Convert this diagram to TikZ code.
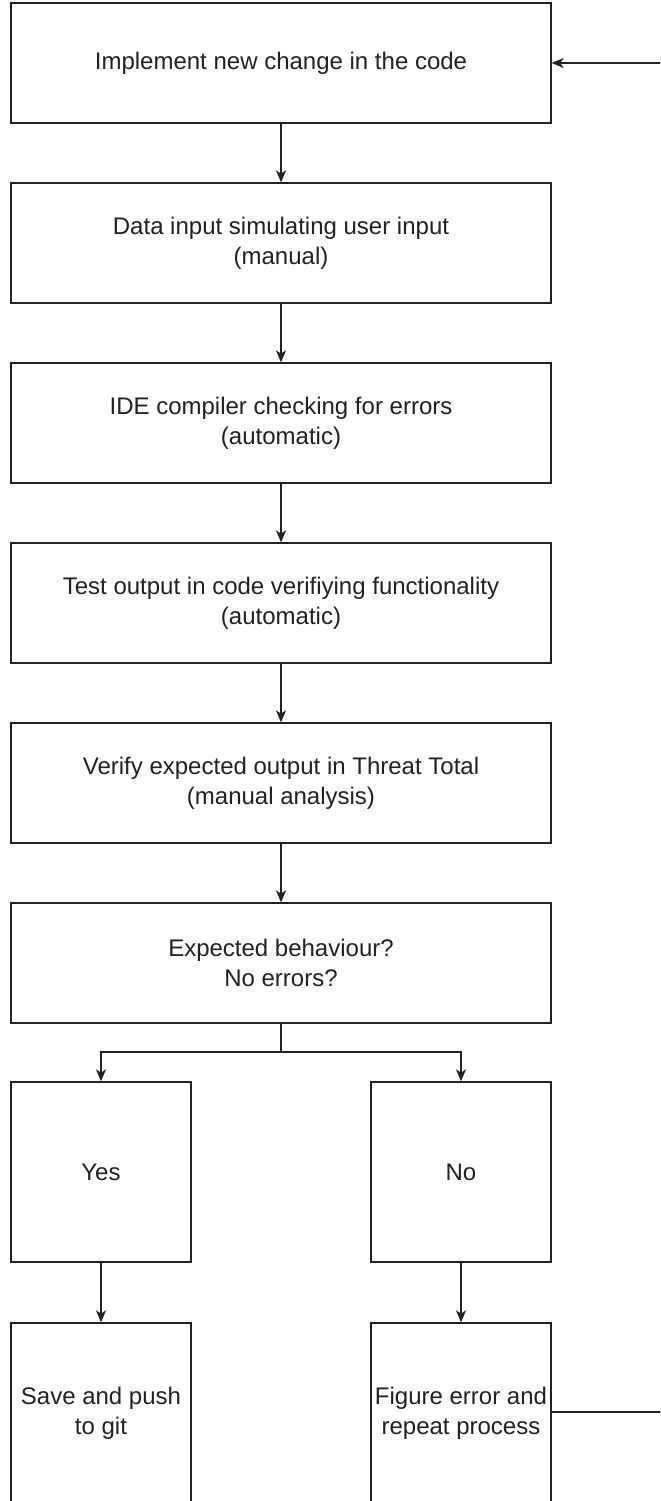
\documentclass[tikz,border=0pt]{standalone}
\usepackage{fontspec}
\setmainfont{Liberation Sans}
\usetikzlibrary{arrows.meta}
\definecolor{ink}{HTML}{222222}
\tikzset{
  stepbox/.style={draw=ink, line width=1pt, fill=white, inner sep=0pt, align=center,
    text=ink, font=\fontsize{18}{22.5}\selectfont,
    minimum width=405pt, minimum height=90pt},
  tallbox/.style={stepbox, minimum width=135pt, minimum height=135pt},
  arr/.style={draw=ink, line width=1pt, -{Stealth[length=9pt, width=7.5pt, inset=2.5pt]}},
  link/.style={draw=ink, line width=1pt}
}
\begin{document}
\begin{tikzpicture}[x=0.75pt, y=-0.75pt]
\path[use as bounding box] (0,0) rectangle (660,1501);
\clip (0,0) rectangle (660,1501);

% main sequence of steps
\node[stepbox] (b1) at (281,63)  {Implement new change in the code};
\node[stepbox] (b2) at (281,243) {Data input simulating user input\\(manual)};
\node[stepbox] (b3) at (281,423) {IDE compiler checking for errors\\(automatic)};
\node[stepbox] (b4) at (281,603) {Test output in code verifiying functionality\\(automatic)};
\node[stepbox] (b5) at (281,783) {Verify expected output in Threat Total\\(manual analysis)};
\node[stepbox] (b6) at (281,963) {Expected behaviour?\\No errors?};

% decision outcomes
\node[tallbox] (yes) at (101,1172) {Yes};
\node[tallbox] (no)  at (461,1172) {No};
\node[tallbox] (save) at (101,1413) {Save and push\\to git};
\node[tallbox] (fig)  at (461,1413) {Figure error and\\repeat process};

\draw[arr] (b1) -- (b2);
\draw[arr] (b2) -- (b3);
\draw[arr] (b3) -- (b4);
\draw[arr] (b4) -- (b5);
\draw[arr] (b5) -- (b6);

\coordinate (split) at (281,1052);
\draw[link] (b6) -- (split);
\draw[arr] (split) -| (yes);
\draw[arr] (split) -| (no);

\draw[arr] (yes) -- (save);
\draw[arr] (no) -- (fig);

% loop back to the first step, routed beyond the right edge
\coordinate (loopA) at (700,1412);
\coordinate (loopB) at (700,63);
\draw[arr] (fig.east |- loopA) -- (loopA) -- (loopB) -- (b1.east);
\end{tikzpicture}
\end{document}
